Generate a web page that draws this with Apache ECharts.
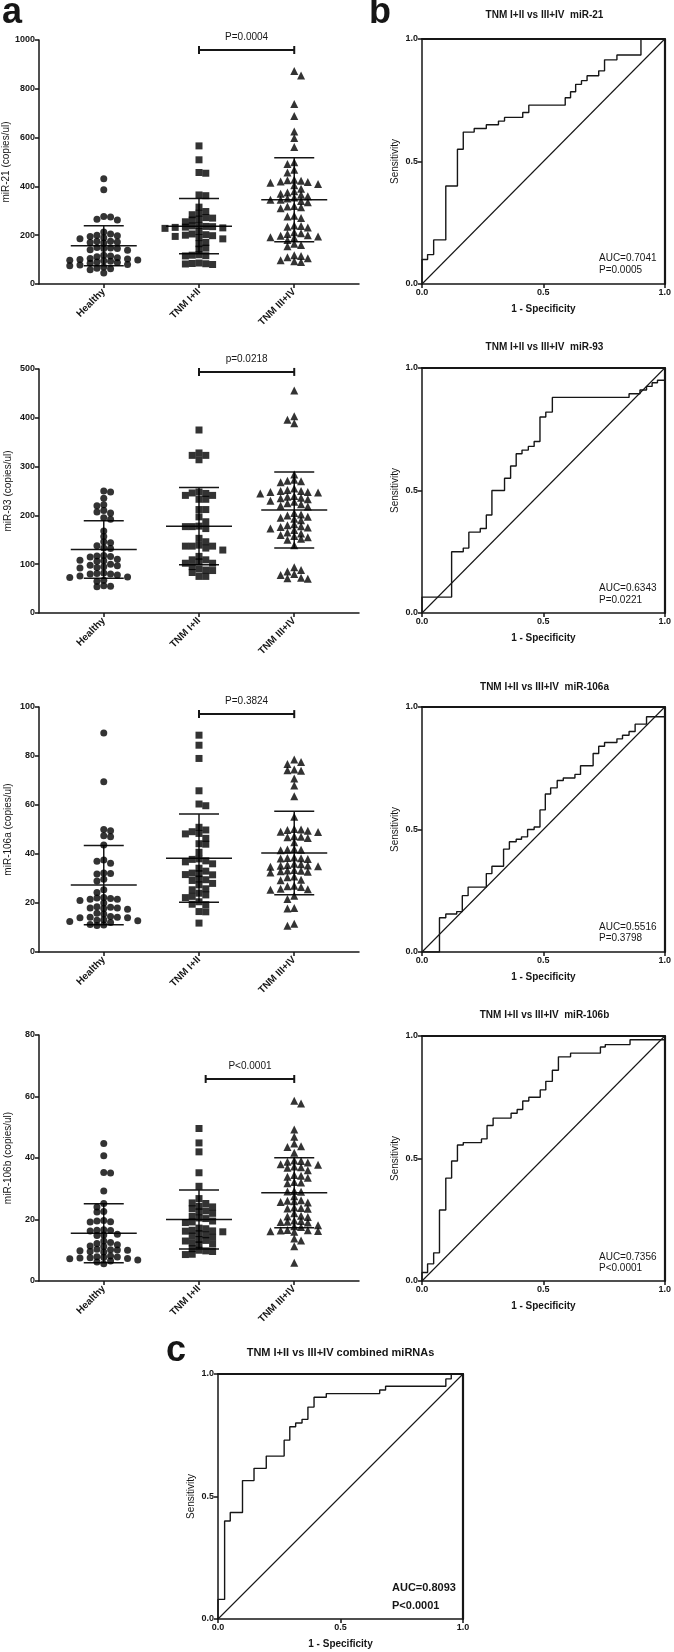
<!DOCTYPE html>
<html><head><meta charset="utf-8">
<script src="https://cdn.jsdelivr.net/npm/echarts@6/dist/echarts.min.js"></script>
<style>html,body{margin:0;padding:0;background:#fff}#c{width:674px;height:1652px}</style>
</head><body><div id="c"></div>
<script>
// ---------- DATA ----------
const categories = ['Healthy', 'TNM I+II', 'TNM III+IV'];
const yAxisNames = ['miR-21 (copies/ul)', 'miR-93 (copies/ul)', 'miR-106a (copies/ul)', 'miR-106b (copies/ul)'];
const yMaxes = [1000, 500, 100, 80];
const yIntervals = [200, 100, 20, 20];

const miR21_healthy = [431,386,277,275,265,262,213,205,200,198,195,190,185,175,175,172,170,168,150,148,146,145,140,138,118,115,112,108,105,102,100,98,97,95,93,90,88,85,80,78,75,70,65,62,58,45];
const miR21_tnm12 = [566,509,457,454,365,362,315,297,290,284,272,270,266,262,255,240,238,236,235,233,232,230,228,215,205,202,200,198,195,190,185,170,165,147,143,120,118,116,115,86,84,83,82,80];
const miR21_tnm34 = [873,854,738,689,625,598,561,499,492,468,457,427,425,423,420,418,415,410,405,390,380,375,370,366,360,355,350,345,345,340,335,320,318,315,310,280,277,270,240,238,235,232,212,208,205,200,198,195,192,190,180,165,160,155,118,115,110,106,97,93,90];

const miR93_healthy = [250,248,235,222,220,210,207,205,195,192,168,157,146,144,138,133,132,118,117,116,115,110,108,107,106,100,98,97,95,93,92,82,81,80,80,78,76,74,73,67,65,56,55,54];
const miR93_tnm12 = [375,328,323,323,314,248,246,245,241,241,233,233,212,212,197,187,178,177,177,173,153,146,139,137,137,137,133,129,116,109,109,105,102,102,95,90,88,87,83,75,75];
const miR93_tnm34 = [456,403,396,389,284,273,271,270,268,255,252,250,250,248,248,247,245,240,238,236,235,233,230,228,225,223,220,218,205,202,200,197,195,193,190,182,180,178,176,175,173,170,165,163,160,158,155,152,150,139,94,88,85,80,78,72,71,70];

const miR106a_healthy = [89.4,69.5,50,49.5,47.5,47,43.7,37.6,37,36.2,32.2,32,31.8,29.7,29,25.4,24.3,22.2,22,21.8,21.5,21.5,21,20,18.5,18.3,18,18,17.8,17.5,15.8,15.5,14.5,14.2,14.2,14,14,13.2,13,12.8,12.5,12,11.2,11,10.8];
const miR106a_tnm12 = [88.5,84.4,79,65.8,60.4,59.7,50.9,49.8,49.1,48.4,48.2,46.4,44.2,44,40.7,38,37.8,37.2,36.8,36,34.2,33,32.2,32,31.6,31.5,29.8,29.5,29.2,28,27.4,25.8,25.4,24,23.3,22.7,22.2,20.5,19.5,19.3,16.5,16.4,11.8];
const miR106a_tnm34 = [78.6,77.6,76.7,74.5,74.2,74,70.8,68,63.6,55.2,50.2,50,49.8,49.5,49.1,49,47.2,47,46.8,46.5,44.8,42,41.8,41.7,41.5,38.6,38.4,38.3,38.2,38,36,35.8,35.5,35.3,35.2,35,34.8,33.5,33.3,33.2,33,32.8,32.5,30.8,30.5,29.5,29.3,27,26.8,26.5,25.8,25.6,25.4,23,21.6,18,17.8,11.5,10.7];

const miR106b_healthy = [44.7,40.7,35.3,35.1,29.3,25.2,24.1,22.6,22.4,19.7,19.5,19.3,19.2,16.7,16.5,16.4,16.3,15.2,15,14.8,13,12.5,12.2,11.8,11.4,11.2,10.3,10.2,10.1,10,9.8,9.6,9.4,8.1,7.9,7.8,7.7,7.6,7.5,7.3,7.2,6.8,6.5,6.2,5.6];
const miR106b_tnm12 = [49.6,44.9,42,35.2,30.8,26.8,25.4,25.2,24.3,24.1,23.5,22.8,22.5,22,21,20.5,20.3,19.5,19.2,19,17.2,17,16.5,16.3,16.2,16,15.4,15,14.6,14.2,13.5,13.2,13,12.4,12,11.8,10.5,10,9.8,9.6,8.7,8.6];
const miR106b_tnm34 = [58.6,57.7,49.3,46.9,44.7,43.8,43.6,41.7,39.2,39,38.8,38.5,38,37.8,37.2,37,36.8,36,34.5,34.2,33.9,33.6,32.2,32,31.8,29.3,29.1,29,27.6,26.3,26.1,25.9,25.7,25.5,23.9,23.7,23.6,23.5,22,21.2,21,20.8,19.7,19.5,19.3,19.2,19,18.1,17.8,17.6,16.6,16.5,16.4,16.3,16.2,16,13.8,13.2,11.3,5.9];

const miR21_mean = [157, 237, 345],  miR21_sd = [82, 113, 172];
const miR93_mean = [130, 178, 211],  miR93_sd = [59, 79, 78];
const miR106a_mean = [27.3, 38.3, 40.4], miR106a_sd = [16.2, 18, 17];
const miR106b_mean = [15.5, 20, 28.7],   miR106b_sd = [9.6, 9.6, 11.4];

const pLabels = ['P=0.0004', 'p=0.0218', 'P=0.3824', 'P<0.0001'];
const bracketY = [959, 494, 97.1, 65.7];
const bracketFrom = [2, 2, 2, 2.07];
const bracketTo = [3, 3, 3, 3];

const rocTitles = ['TNM I+II vs III+IV  miR-21', 'TNM I+II vs III+IV  miR-93', 'TNM I+II vs III+IV  miR-106a', 'TNM I+II vs III+IV  miR-106b', 'TNM I+II vs III+IV combined miRNAs'];
const aucLabels = ['AUC=0.7041', 'AUC=0.6343', 'AUC=0.5516', 'AUC=0.7356', 'AUC=0.8093'];
const aucPLabels = ['P=0.0005', 'P=0.0221', 'P=0.3798', 'P<0.0001', 'P<0.0001'];

const roc_miR21 = [[0,0],[0,0.10],[0.023,0.12],[0.048,0.18],[0.098,0.40],[0.146,0.55],[0.17,0.62],[0.215,0.635],[0.265,0.65],[0.315,0.665],[0.34,0.68],[0.415,0.70],[0.44,0.73],[0.59,0.76],[0.612,0.785],[0.633,0.815],[0.657,0.83],[0.68,0.85],[0.728,0.87],[0.752,0.915],[0.803,0.935],[0.902,1.0],[1,1]];
const roc_miR93 = [[0,0],[0,0.065],[0.122,0.25],[0.17,0.265],[0.193,0.33],[0.24,0.345],[0.265,0.40],[0.288,0.50],[0.34,0.55],[0.365,0.60],[0.388,0.65],[0.412,0.665],[0.438,0.68],[0.462,0.70],[0.486,0.80],[0.51,0.82],[0.537,0.88],[0.853,0.895],[0.898,0.91],[0.925,0.925],[0.948,0.94],[0.97,0.95],[1,1]];
const roc_miR106a = [[0,0],[0.072,0.14],[0.098,0.155],[0.143,0.165],[0.166,0.23],[0.19,0.265],[0.265,0.32],[0.288,0.35],[0.336,0.42],[0.36,0.45],[0.388,0.46],[0.41,0.47],[0.435,0.50],[0.462,0.51],[0.486,0.58],[0.508,0.645],[0.53,0.67],[0.557,0.70],[0.582,0.71],[0.63,0.725],[0.653,0.76],[0.705,0.81],[0.728,0.84],[0.752,0.855],[0.803,0.87],[0.826,0.885],[0.853,0.90],[0.878,0.93],[0.925,0.96],[1,1]];
const roc_miR106b = [[0,0],[0,0.035],[0.023,0.07],[0.048,0.115],[0.072,0.29],[0.098,0.42],[0.122,0.49],[0.146,0.555],[0.17,0.565],[0.245,0.58],[0.268,0.635],[0.293,0.665],[0.367,0.685],[0.392,0.70],[0.415,0.735],[0.44,0.75],[0.487,0.78],[0.51,0.815],[0.537,0.86],[0.562,0.915],[0.612,0.93],[0.735,0.955],[0.755,0.965],[0.857,0.985],[1,1]];
const roc_combined = [[0,0],[0,0.08],[0.027,0.40],[0.05,0.435],[0.1,0.565],[0.147,0.615],[0.197,0.665],[0.27,0.73],[0.293,0.785],[0.317,0.80],[0.343,0.815],[0.367,0.865],[0.392,0.905],[0.442,0.92],[0.66,0.935],[0.684,0.95],[0.93,0.98],[0.952,1.0],[1,1]];
const diagonal = [[0,0],[1,1]];

// ---------- LAYOUT / STYLE ----------
const FONT = '"Liberation Sans", Arial, sans-serif';
const C = '#161616';
const SL = 39, SW = 320, XMIN = 0.32, XMAX = 3.68;
const scatterGrids = [{top:40,h:244},{top:369,h:244},{top:707,h:245},{top:1035,h:246}];
const rocGrids = [{left:422,top:39},{left:422,top:368},{left:422,top:707},{left:422,top:1036},{left:218,top:1374}];
const RS = 245;

const groups = [
  [miR21_healthy, miR21_tnm12, miR21_tnm34],
  [miR93_healthy, miR93_tnm12, miR93_tnm34],
  [miR106a_healthy, miR106a_tnm12, miR106a_tnm34],
  [miR106b_healthy, miR106b_tnm12, miR106b_tnm34]
];
const meanSets = [[miR21_mean, miR21_sd],[miR93_mean, miR93_sd],[miR106a_mean, miR106a_sd],[miR106b_mean, miR106b_sd]];
const rocs = [roc_miR21, roc_miR93, roc_miR106a, roc_miR106b, roc_combined];
const symbols = ['circle', 'rect', 'triangle'];

// beeswarm layout: horizontal offsets computed from the values (limited spread)
function swarm(values, cat, pxPerY, pxPerX) {
  const dx = 6.8, dy = 5.2, maxOff = 36;
  const sorted = values.slice().sort((a, b) => b - a);
  const placed = [], out = [];
  sorted.forEach((v, i) => {
    const y = v * pxPerY;
    let best = null, bestScore = -1;
    for (let k = 0; k < 40; k++) {
      const m = k === 0 ? 0 : (k % 2 ? Math.ceil(k / 2) : -k / 2);
      const x = m * dx / 2 * (i % 2 ? 1 : -1);
      if (Math.abs(x) > maxOff) continue;
      let score = Infinity;
      placed.forEach(p => {
        const sx = Math.abs(p[0] - x) / dx, sy = Math.abs(p[1] - y) / dy;
        score = Math.min(score, Math.max(sx, sy));
      });
      if (score >= 1) { best = x; break; }
      if (score > bestScore) { bestScore = score; best = x; }
    }
    placed.push([best, y]); out.push([cat + best / pxPerX, v]);
  });
  return out;
}

const grid = [], xAxis = [], yAxis = [], series = [], graphic = [];
const tickLabel = {fontSize: 9, fontWeight: 'bold', color: C, fontFamily: FONT};
const axLine = w => ({show: true, onZero: false, lineStyle: {color: C, width: w}});

// scatter panels
scatterGrids.forEach((g, i) => {
  grid.push({left: SL, top: g.top, width: SW, height: g.h});
  xAxis.push({type: 'value', gridIndex: i, min: XMIN, max: XMAX,
    axisLine: axLine(1.5),
    axisTick: {show: true, length: 4, customValues: [1, 2, 3], lineStyle: {color: C, width: 1.5}},
    axisLabel: {customValues: [1, 2, 3], rotate: 45, margin: 6, fontSize: 10, fontWeight: 'bold', color: C, fontFamily: FONT,
      formatter: v => categories[Math.round(v) - 1]},
    splitLine: {show: false}});
  yAxis.push({type: 'value', gridIndex: i, min: 0, max: yMaxes[i], interval: yIntervals[i],
    axisLine: axLine(1.5),
    axisTick: {show: true, length: 4, lineStyle: {color: C, width: 1.5}},
    axisLabel: Object.assign({margin: 4, formatter: v => String(v)}, tickLabel),
    splitLine: {show: false},
    name: yAxisNames[i], nameLocation: 'middle', nameGap: 26,
    nameTextStyle: {fontSize: 10, color: C, fontFamily: FONT}});
  const pxPerY = g.h / yMaxes[i], pxPerX = SW / (XMAX - XMIN);
  groups[i].forEach((vals, c) => {
    series.push({type: 'scatter', xAxisIndex: i, yAxisIndex: i, symbol: symbols[c], symbolSize: c === 2 ? 8 : 7,
      itemStyle: {color: '#000'}, data: swarm(vals, c + 1, pxPerY, pxPerX), silent: true});
  });
  const [mean, sd] = meanSets[i];
  series.push({type: 'custom', xAxisIndex: i, yAxisIndex: i, silent: true,
    data: mean.map((m, c) => [c + 1, m, sd[c]]),
    renderItem: (params, api) => {
      const c = api.value(0), m = api.value(1), s = api.value(2);
      const pm = api.coord([c, m]), pu = api.coord([c, m + s]), pl = api.coord([c, m - s]);
      const st = {stroke: C, lineWidth: 1.5};
      return {type: 'group', children: [
        {type: 'line', shape: {x1: pm[0] - 33, y1: pm[1], x2: pm[0] + 33, y2: pm[1]}, style: st},
        {type: 'line', shape: {x1: pu[0], y1: pu[1], x2: pl[0], y2: pl[1]}, style: st},
        {type: 'line', shape: {x1: pu[0] - 20, y1: pu[1], x2: pu[0] + 20, y2: pu[1]}, style: st},
        {type: 'line', shape: {x1: pl[0] - 20, y1: pl[1], x2: pl[0] + 20, y2: pl[1]}, style: st}
      ]};
    }});
  series.push({type: 'custom', xAxisIndex: i, yAxisIndex: i, silent: true, clip: false,
    data: [[bracketFrom[i], bracketTo[i], bracketY[i]]],
    renderItem: (params, api) => {
      const p1 = api.coord([api.value(0), api.value(2)]), p2 = api.coord([api.value(1), api.value(2)]);
      const st = {stroke: C, lineWidth: 2};
      return {type: 'group', children: [
        {type: 'line', shape: {x1: p1[0], y1: p1[1], x2: p2[0], y2: p2[1]}, style: st},
        {type: 'line', shape: {x1: p1[0], y1: p1[1] - 4, x2: p1[0], y2: p1[1] + 4}, style: st},
        {type: 'line', shape: {x1: p2[0], y1: p2[1] - 4, x2: p2[0], y2: p2[1] + 4}, style: st},
        {type: 'text', style: {text: pLabels[i], x: (p1[0] + p2[0]) / 2, y: p1[1] - 13,
          align: 'center', verticalAlign: 'middle', textAlign: 'center', textVerticalAlign: 'middle',
          font: '10px ' + FONT, fill: C}}
      ]};
    }});
});

// ROC panels
rocGrids.forEach((g, j) => {
  const gi = 4 + j;
  grid.push({left: g.left, top: g.top, width: RS, height: RS});
  const tl = Object.assign({margin: 4, formatter: v => v.toFixed(1)}, tickLabel);
  xAxis.push({type: 'value', gridIndex: gi, min: 0, max: 1, interval: 0.5,
    axisLine: axLine(1.5), axisTick: {show: true, length: 4, lineStyle: {color: C, width: 1.5}},
    axisLabel: tl, splitLine: {show: false},
    name: '1 - Specificity', nameLocation: 'middle', nameGap: 20,
    nameTextStyle: {fontSize: 10, fontWeight: 'bold', color: C, fontFamily: FONT}});
  yAxis.push({type: 'value', gridIndex: gi, min: 0, max: 1, interval: 0.5,
    axisLine: axLine(1.5), axisTick: {show: true, length: 4, lineStyle: {color: C, width: 1.5}},
    axisLabel: tl, splitLine: {show: false},
    name: 'Sensitivity', nameLocation: 'middle', nameGap: 22,
    nameTextStyle: {fontSize: 10, color: C, fontFamily: FONT}});
});
rocGrids.forEach((g, j) => {
  const gi = 4 + j;
  xAxis.push({type: 'value', gridIndex: gi, position: 'top', min: 0, max: 1,
    axisLine: axLine(2.2), axisTick: {show: false}, axisLabel: {show: false}, splitLine: {show: false}});
  yAxis.push({type: 'value', gridIndex: gi, position: 'right', min: 0, max: 1,
    axisLine: axLine(2.2), axisTick: {show: false}, axisLabel: {show: false}, splitLine: {show: false}});
});
rocs.forEach((r, j) => {
  const ai = 4 + j;
  series.push({type: 'line', xAxisIndex: ai, yAxisIndex: ai, data: diagonal, symbol: 'none', silent: true,
    lineStyle: {color: C, width: 1.1}});
  series.push({type: 'line', xAxisIndex: ai, yAxisIndex: ai, data: r, step: 'end', symbol: 'none', silent: true,
    lineStyle: {color: C, width: 1.4}});
});

// texts
const txt = (text, x, y, font, align) => ({type: 'text', x: x, y: y, silent: true,
  style: {text: text, font: font, fill: C, textAlign: align || 'left', textVerticalAlign: 'middle',
    align: align || 'left', verticalAlign: 'middle'}});
graphic.push(txt('a', 2, 13, 'bold 36px ' + FONT));
graphic.push(txt('b', 369, 13, 'bold 36px ' + FONT));
graphic.push(txt('c', 166, 1351, 'bold 36px ' + FONT));
const titleY = [15, 347, 687, 1015, 1353];
const aucY = [258, 588, 927, 1257, 1588];
const aucPY = [270, 600, 938, 1268, 1606];
rocGrids.forEach((g, j) => {
  const cx = g.left + RS / 2;
  const isC = j === 4;
  graphic.push(txt(rocTitles[j], cx, titleY[j], 'bold ' + (isC ? 11 : 10) + 'px ' + FONT, 'center'));
  graphic.push(txt(aucLabels[j], g.left + (isC ? 174 : 177), aucY[j], (isC ? 'bold 11px ' : '10px ') + FONT));
  graphic.push(txt(aucPLabels[j], g.left + (isC ? 174 : 177), aucPY[j], (isC ? 'bold 11px ' : '10px ') + FONT));
});

const chart = echarts.init(document.getElementById('c'), null, {renderer: 'canvas'});
chart.setOption({animation: false, backgroundColor: '#fff', grid, xAxis, yAxis, series, graphic});
</script></body></html>
